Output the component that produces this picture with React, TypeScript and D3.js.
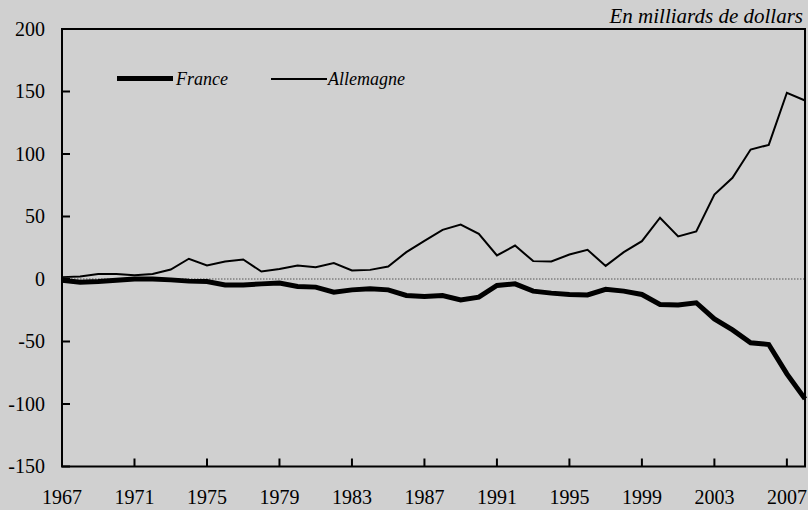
import React from 'react';
import * as d3 from 'd3';

// years 1967..2008
const years = d3.range(1967, 2009);

// En milliards de dollars
const france = [
  -1, -2.5, -2, -1, 0, 0, -0.7, -1.7, -2, -4.7, -4.7, -3.9, -3.3, -6, -6.5, -10.5,
  -8.7, -7.9, -8.7, -13.2, -14, -13.2, -16.7, -14.5, -5.2, -3.9, -9.7, -11.3, -12.4,
  -12.7, -8.3, -9.7, -12.4, -20.4, -20.7, -19, -31.9, -40.7, -51, -52.4, -75.9, -95.9,
];
const allemagne = [
  1.5, 2, 4, 4, 3, 4, 7.6, 16.2, 10.8, 14, 15.6, 6, 8, 10.8, 9.5, 12.7,
  6.8, 7.3, 10, 21.5, 30.5, 39.3, 43.6, 36.2, 18.8, 26.8, 14.3, 14, 19.6,
  23.3, 10.5, 21.5, 30.3, 49, 34, 38, 67.6, 81, 103.6, 107.3, 149, 142.8,
];
const yTicks = [-150, -100, -50, 0, 50, 100, 150, 200];
const xTicks = [1967, 1971, 1975, 1979, 1983, 1987, 1991, 1995, 1999, 2003, 2007];

const W = 808;
const H = 510;
const margin = { top: 29, right: 3, bottom: 43.5, left: 62 };
const font = '"Liberation Serif", "Times New Roman", serif';

const App = () => {
  const x = d3.scaleLinear().domain([1967, 2008]).range([margin.left, W - margin.right]);
  const y = d3.scaleLinear().domain([-150, 200]).range([H - margin.bottom, margin.top]);

  const line = d3.line<number>()
    .x((_, i) => x(years[i]))
    .y(d => y(d));

  const x0 = x.range()[0], x1 = x.range()[1];
  const yb = y(-150), yt = y(200);

  return (
    <div>
      <style>{'body{margin:0;background:#d0d0d0}'}</style>
      <svg width={W} height={H} style={{ display: 'block', background: '#d0d0d0' }}>
        <rect width={W} height={H} fill="#d0d0d0" />

        {/* zero line */}
        <line x1={x0} x2={x1} y1={y(0)} y2={y(0)}
          stroke="#555" strokeWidth={1.2} strokeDasharray="1.5,1.5" />

        <path d={line(allemagne) || ''} fill="none" stroke="#000" strokeWidth={2} />
        <path d={line(france) || ''} fill="none" stroke="#000" strokeWidth={5} />

        {/* frame */}
        <rect x={x0} y={yt} width={x1 - x0} height={yb - yt}
          fill="none" stroke="#000" strokeWidth={2} />

        {yTicks.map(t => (
          <g key={t}>
            <line x1={x0} x2={x0 + 8} y1={y(t)} y2={y(t)} stroke="#000" strokeWidth={2} />
            <text x={45} y={y(t)} dy="0.33em" textAnchor="end"
              fontFamily={font} fontSize={20}>{t}</text>
          </g>
        ))}

        {xTicks.map(t => (
          <g key={t}>
            <line x1={x(t)} x2={x(t)} y1={yb} y2={yb - 8} stroke="#000" strokeWidth={2} />
            <text x={x(t)} y={504} textAnchor="middle"
              fontFamily={font} fontSize={20}>{t}</text>
          </g>
        ))}

        <text x={803} y={23} textAnchor="end" fontFamily={font} fontSize={21}
          fontStyle="italic">En milliards de dollars</text>

        {/* legend */}
        <line x1={117} x2={173} y1={78.5} y2={78.5} stroke="#000" strokeWidth={5} />
        <text x={176} y={85} fontFamily={font} fontSize={18} fontStyle="italic">France</text>
        <line x1={271} x2={327} y1={79} y2={79} stroke="#000" strokeWidth={2} />
        <text x={328} y={85} fontFamily={font} fontSize={18} fontStyle="italic">Allemagne</text>
      </svg>
    </div>
  );
};

export default App;
